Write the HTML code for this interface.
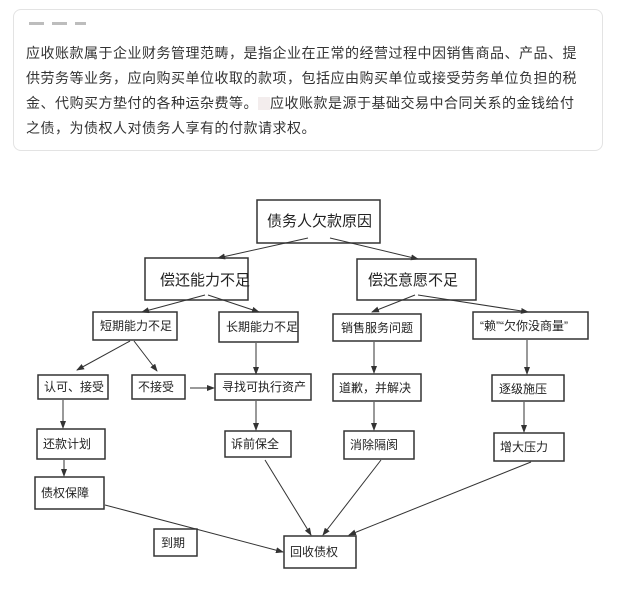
<!DOCTYPE html>
<html><head><meta charset="utf-8"><style>
body{margin:0;width:617px;height:597px;background:#fff;position:relative;overflow:hidden;font-family:"Liberation Sans","Noto Sans CJK SC",sans-serif}
.card{position:absolute;left:13px;top:9px;width:590px;height:142px;border:1px solid #e3e3e3;border-radius:8px;box-sizing:border-box}
.d{position:absolute;top:22px;height:3px;background:#bdbdbd}
.t{position:absolute;left:26px;font-size:14px;letter-spacing:0.5px;color:#333;white-space:nowrap;line-height:25px}
svg{position:absolute;left:0;top:0}
</style></head><body>
<div class="card"></div>
<div class="d" style="left:29px;width:15px"></div>
<div class="d" style="left:52px;width:15px"></div>
<div class="d" style="left:75px;width:11px"></div>
<div class="t" style="top:41px">应收账款属于企业财务管理范畴，是指企业在正常的经营过程中因销售商品、产品、提</div>
<div class="t" style="top:66px">供劳务等业务，应向购买单位收取的款项，包括应由购买单位或接受劳务单位负担的税</div>
<div class="t" style="top:91px">金、代购买方垫付的各种运杂费等。<span style="display:inline-block;width:12px;height:13px;background:#f3eded;vertical-align:-2px"></span>应收账款是源于基础交易中合同关系的金钱给付</div>
<div class="t" style="top:116px">之债，为债权人对债务人享有的付款请求权。</div>
<svg width="617" height="597" xmlns="http://www.w3.org/2000/svg" font-family="Liberation Sans, Noto Sans CJK SC, sans-serif" fill="#222">
<defs><marker id="a" markerWidth="8" markerHeight="6" refX="7" refY="3" orient="auto" markerUnits="userSpaceOnUse"><path d="M0,0 L8,3 L0,6 z" fill="#333"/></marker></defs>
<g fill="#fff" stroke="#333" stroke-width="1.5">
<rect x="257" y="200" width="123" height="43"/>
<rect x="145" y="258" width="103" height="42"/>
<rect x="357" y="259" width="119" height="41"/>
<rect x="93" y="312" width="84" height="28"/>
<rect x="219" y="312" width="79" height="30"/>
<rect x="333" y="314" width="88" height="27"/>
<rect x="473" y="312" width="115" height="27"/>
<rect x="38" y="375" width="70" height="24"/>
<rect x="132" y="375" width="53" height="24"/>
<rect x="215" y="374" width="96" height="26"/>
<rect x="333" y="374" width="88" height="27"/>
<rect x="492" y="375" width="72" height="26"/>
<rect x="37" y="429" width="68" height="30"/>
<rect x="225" y="431" width="66" height="26"/>
<rect x="344" y="431" width="70" height="28"/>
<rect x="494" y="433" width="70" height="28"/>
<rect x="35" y="477" width="69" height="32"/>
<rect x="154" y="529" width="43" height="27"/>
<rect x="284" y="536" width="72" height="32"/>
</g>
<g stroke="#333" stroke-width="1" marker-end="url(#a)" fill="none">
<line x1="308" y1="238" x2="218" y2="258"/>
<line x1="330" y1="238" x2="418" y2="259"/>
<line x1="205" y1="295" x2="142" y2="312"/>
<line x1="208" y1="295" x2="259" y2="312"/>
<line x1="415" y1="295" x2="372" y2="312"/>
<line x1="418" y1="295" x2="528" y2="312"/>
<line x1="130" y1="341" x2="77" y2="370"/>
<line x1="134" y1="341" x2="157" y2="371"/>
<line x1="256" y1="343" x2="256" y2="374"/>
<line x1="374" y1="342" x2="374" y2="373"/>
<line x1="527" y1="340" x2="527" y2="374"/>
<line x1="190" y1="388" x2="214" y2="388"/>
<line x1="63" y1="400" x2="63" y2="428"/>
<line x1="256" y1="401" x2="256" y2="430"/>
<line x1="374" y1="402" x2="374" y2="430"/>
<line x1="524" y1="402" x2="524" y2="432"/>
<line x1="64" y1="460" x2="64" y2="476"/>
<line x1="105" y1="505" x2="283" y2="552"/>
<line x1="265" y1="460" x2="311" y2="535"/>
<line x1="381" y1="460" x2="323" y2="535"/>
<line x1="531" y1="462" x2="349" y2="535"/>
</g>
<g font-size="15">
<text x="267" y="226">债务人欠款原因</text>
<text x="160" y="285">偿还能力不足</text>
<text x="368" y="285">偿还意愿不足</text>
</g>
<g font-size="12">
<text x="100" y="330">短期能力不足</text>
<text x="226" y="331">长期能力不足</text>
<text x="341" y="332">销售服务问题</text>
<text x="480" y="330">“赖”“欠你没商量”</text>
<text x="44" y="391">认可、接受</text>
<text x="138" y="391">不接受</text>
<text x="222" y="391">寻找可执行资产</text>
<text x="339" y="392">道歉，并解决</text>
<text x="499" y="393">逐级施压</text>
<text x="43" y="448">还款计划</text>
<text x="231" y="448">诉前保全</text>
<text x="350" y="449">消除隔阂</text>
<text x="500" y="451">增大压力</text>
<text x="41" y="497">债权保障</text>
<text x="161" y="547">到期</text>
<text x="290" y="556">回收债权</text>
</g>
</svg>
</body></html>
